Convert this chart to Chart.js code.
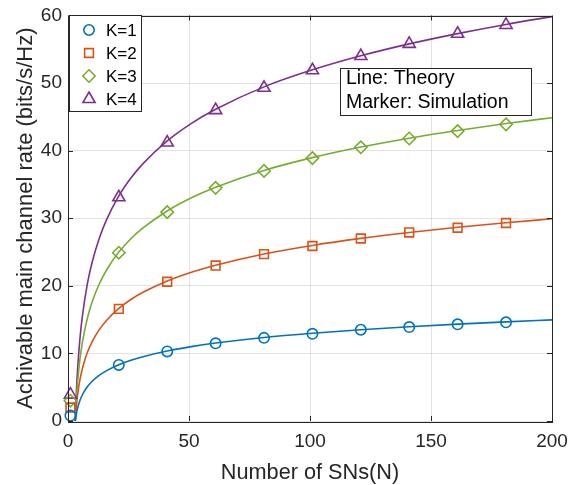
<!DOCTYPE html>
<html>
<head>
<meta charset="utf-8">
<script src="https://cdn.jsdelivr.net/npm/chart.js@4/dist/chart.umd.min.js"></script>
<style>
html,body{margin:0;padding:0;background:#fff;}
#wrap{width:581px;height:485px;}
</style>
</head>
<body>
<div id="wrap"><canvas id="c" width="581" height="485"></canvas></div>
<script>
// ---- data ----
const theoryN = [3, 3.5, 4, 5, 6, 8, 10, 13, 16, 21, 26, 31, 41, 51, 61, 81, 101, 121, 141, 161, 181, 200];
const theoryK1 = [0, 1.15, 1.96, 3.11, 3.92, 5.07, 5.88, 6.78, 7.46, 8.33, 8.99, 9.52, 10.36, 11.01, 11.53, 12.36, 12.99, 13.51, 13.95, 14.33, 14.67, 14.96];
const theoryK2 = [0, 2.3, 3.92, 6.22, 7.84, 10.14, 11.76, 13.56, 14.92, 16.66, 17.98, 19.04, 20.72, 22.02, 23.06, 24.72, 25.98, 27.02, 27.9, 28.66, 29.34, 29.92];
const theoryK3 = [0, 3.45, 5.88, 9.33, 11.76, 15.21, 17.64, 20.34, 22.38, 24.99, 26.97, 28.56, 31.08, 33.03, 34.59, 37.08, 38.97, 40.53, 41.85, 42.99, 44.01, 44.88];
const theoryK4 = [0, 4.6, 7.84, 12.44, 15.68, 20.28, 23.52, 27.12, 29.84, 33.32, 35.96, 38.08, 41.44, 44.04, 46.12, 49.44, 51.96, 54.04, 55.8, 57.32, 58.68, 59.84];

const simN = [1, 21, 41, 61, 81, 101, 121, 141, 161, 181];
const simK1 = [0.8, 8.3, 10.3, 11.5, 12.3, 12.9, 13.5, 13.9, 14.3, 14.6];
const simK2 = [2.0, 16.6, 20.6, 23.0, 24.7, 25.9, 27.0, 27.9, 28.6, 29.3];
const simK3 = [3.0, 24.9, 30.9, 34.5, 37.0, 38.9, 40.5, 41.8, 42.9, 43.9];
const simK4 = [3.9, 33.1, 41.2, 46.0, 49.3, 51.9, 54.0, 55.8, 57.3, 58.6];

const seriesNames = ['K=1', 'K=2', 'K=3', 'K=4'];
const xTicks = [0, 50, 100, 150, 200];
const yTicks = [0, 10, 20, 30, 40, 50, 60];
const xTitle = 'Number of SNs(N)';
const yTitle = 'Achivable main channel rate (bits/s/Hz)';
const noteLines = ['Line: Theory', 'Marker: Simulation'];

// ---- styles ----
const colors = ['#0072BD', '#D95319', '#77AC30', '#7E2F8E'];
const styles = ['circle', 'rect', 'rectRot', 'triangle'];
const radii = [5.2, 6.2, 6.2, 7];
const FONT = '"Liberation Sans", Arial, Helvetica, sans-serif';
const axisColor = '#262626';

const theories = [theoryK1, theoryK2, theoryK3, theoryK4];
const sims = [simK1, simK2, simK3, simK4];

const datasets = [];
theories.forEach((arr, i) => {
  datasets.push({
    label: seriesNames[i] + ' theory',
    data: theoryN.map((n, j) => ({x: n, y: arr[j]})),
    borderColor: colors[i],
    borderWidth: 1.6,
    pointRadius: 0,
    pointHoverRadius: 0,
    fill: false,
    cubicInterpolationMode: 'monotone',
    showLine: true,
    order: 2
  });
});
sims.forEach((arr, i) => {
  datasets.push({
    label: seriesNames[i],
    data: simN.map((n, j) => ({x: n, y: arr[j]})),
    borderColor: colors[i],
    backgroundColor: 'rgba(0,0,0,0)',
    pointBorderColor: colors[i],
    pointBackgroundColor: 'rgba(0,0,0,0)',
    pointBorderWidth: 1.6,
    pointStyle: styles[i],
    pointRadius: radii[i],
    showLine: false,
    clip: false,
    order: 1
  });
});

const boxPlugin = {
  id: 'matlabBox',
  afterDraw(chart) {
    const {ctx, chartArea: a, scales} = chart;
    ctx.save();
    // inward ticks
    ctx.strokeStyle = axisColor;
    ctx.lineWidth = 1;
    const tl = 5;
    ctx.beginPath();
    xTicks.forEach(v => {
      const px = Math.round(scales.x.getPixelForValue(v)) + 0.5;
      ctx.moveTo(px, a.bottom); ctx.lineTo(px, a.bottom - tl);
      ctx.moveTo(px, a.top); ctx.lineTo(px, a.top + tl);
    });
    yTicks.forEach(v => {
      const py = Math.round(scales.y.getPixelForValue(v)) + 0.5;
      ctx.moveTo(a.left, py); ctx.lineTo(a.left + tl, py);
      ctx.moveTo(a.right, py); ctx.lineTo(a.right - tl, py);
    });
    ctx.stroke();
    ctx.strokeRect(Math.round(a.left) + 0.5, Math.round(a.top) + 0.5, Math.round(a.right - a.left), Math.round(a.bottom - a.top));

    // legend box (top-left)
    const lx = 69.5, ly = 15.5, lw = 72, lh = 96;
    ctx.fillStyle = '#fff';
    ctx.fillRect(lx, ly, lw, lh);
    ctx.strokeRect(lx, ly, lw, lh);
    ctx.font = '17px ' + FONT;
    ctx.textBaseline = 'middle';
    ctx.textAlign = 'left';
    seriesNames.forEach((name, i) => {
      const cy = 30 + i * 23;
      const ds = chart.data.datasets[4 + i];
      ctx.fillStyle = 'rgba(0,0,0,0)';
      ctx.strokeStyle = colors[i];
      ctx.lineWidth = 1.6;
      Chart.helpers.drawPoint(ctx, {
        pointStyle: ds.pointStyle, radius: ds.pointRadius, borderWidth: ds.pointBorderWidth, rotation: 0
      }, 89, cy);
      ctx.fillStyle = '#000';
      ctx.fillText(name, 106, cy + 1);
    });

    // note box
    ctx.strokeStyle = axisColor;
    ctx.lineWidth = 1;
    const nx = 340.5, ny = 68.5, nw = 191, nh = 47;
    ctx.fillStyle = '#fff';
    ctx.fillRect(nx, ny, nw, nh);
    ctx.strokeRect(nx, ny, nw, nh);
    ctx.font = '19.5px ' + FONT;
    ctx.fillStyle = '#000';
    ctx.fillText(noteLines[0], 346, 79);
    ctx.fillText(noteLines[1], 346, 102.5);
    ctx.restore();
  }
};

new Chart(document.getElementById('c'), {
  type: 'scatter',
  data: {datasets},
  plugins: [boxPlugin],
  options: {
    responsive: false,
    animation: false,
    events: [],
    layout: {padding: {left: 0, right: 29, top: 10, bottom: 0}},
    plugins: {legend: {display: false}, tooltip: {enabled: false}, title: {display: false}},
    scales: {
      x: {
        type: 'linear', min: 0, max: 200,
        afterBuildTicks(s) { s.ticks = xTicks.map(v => ({value: v})); },
        afterFit(s) { s.height = 64; },
        grid: {color: 'rgba(38,38,38,0.13)', lineWidth: 1, drawTicks: false},
        border: {display: false},
        ticks: {color: axisColor, padding: 11, maxRotation: 0, font: {family: FONT, size: 19, lineHeight: 1}},
        title: {display: true, text: xTitle, color: axisColor, padding: {top: 0, bottom: 0}, font: {family: FONT, size: 21.7, lineHeight: 1.1}}
      },
      y: {
        type: 'linear', min: 0, max: 60,
        afterBuildTicks(s) { s.ticks = yTicks.map(v => ({value: v})); },
        afterFit(s) { s.width = 68; },
        grid: {color: 'rgba(38,38,38,0.13)', lineWidth: 1, drawTicks: false},
        border: {display: false},
        ticks: {color: axisColor, padding: 6, font: {family: FONT, size: 19, lineHeight: 1}},
        title: {display: true, text: yTitle, color: axisColor, padding: {top: 13, bottom: 0}, font: {family: FONT, size: 22, lineHeight: 1.2}}
      }
    }
  }
});
</script>
</body>
</html>
